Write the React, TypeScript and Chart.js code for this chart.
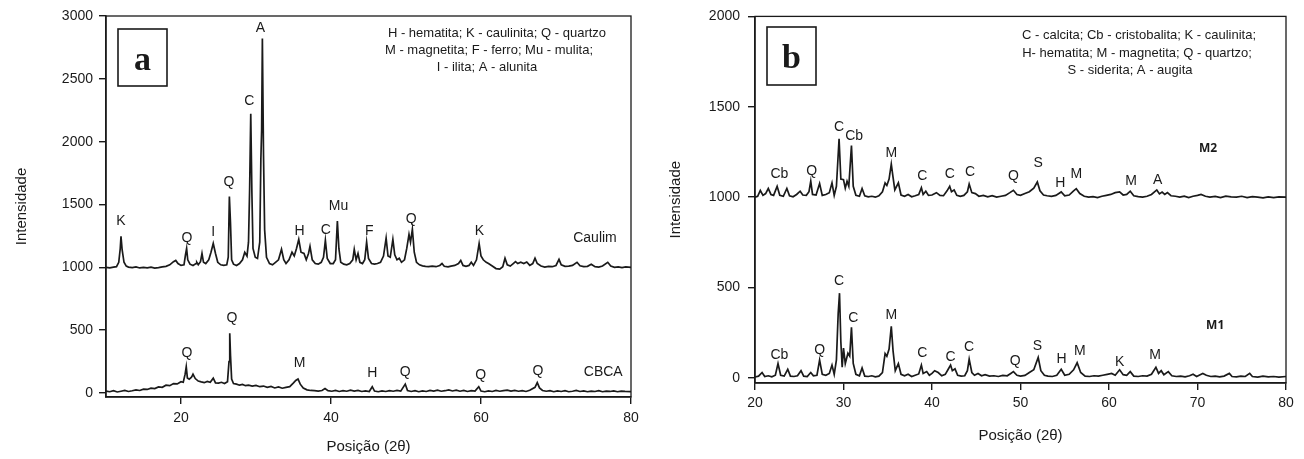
import { useEffect, useRef } from "react";
import { Chart, registerables } from "chart.js";

Chart.register(...registerables);

type Pt = [number, number];
type Lbl = [number, number, string];

// ---------- Panel a: series (2θ, intensity) ----------
const caulim: Pt[] = [
  [10.0, 1000], [10.5, 996], [11.0, 1002], [11.4, 1005], [11.7, 1040], [11.9, 1150], [12.0, 1246], [12.15, 1140],
  [12.4, 1040], [12.7, 1010], [13.0, 1002], [13.5, 998], [14.0, 1003], [14.5, 995], [15.0, 1000], [15.5, 996],
  [16.0, 1002], [16.5, 994], [17.0, 998], [17.5, 1003], [18.0, 1008], [18.5, 1020], [19.0, 1045], [19.3, 1055],
  [19.6, 1030], [20.0, 1015], [20.4, 1020], [20.6, 1100], [20.75, 1150], [20.9, 1060], [21.2, 1025], [21.6, 1015],
  [22.0, 1030], [22.1, 1040], [22.3, 1020], [22.6, 1045], [22.8, 1110], [23.0, 1040], [23.3, 1030], [23.7, 1060],
  [24.0, 1120], [24.3, 1190], [24.6, 1110], [24.9, 1040], [25.3, 1020], [25.7, 1015], [26.1, 1020], [26.3, 1080],
  [26.45, 1564], [26.6, 1350], [26.75, 1060], [27.0, 1025], [27.4, 1015], [27.8, 1030], [28.2, 1060], [28.5, 1120],
  [28.8, 1090], [29.0, 1200], [29.15, 1620], [29.3, 2222], [29.45, 1600], [29.6, 1150], [29.9, 1080], [30.2, 1070],
  [30.5, 1200], [30.65, 1865], [30.75, 2088], [30.85, 2821], [31.0, 1900], [31.15, 1300], [31.4, 1080], [31.8, 1030],
  [32.2, 1020], [32.6, 1040], [33.0, 1060], [33.4, 1143], [33.7, 1060], [34.0, 1030], [34.4, 1060], [34.8, 1120],
  [35.1, 1090], [35.4, 1150], [35.7, 1222], [36.0, 1120], [36.4, 1110], [36.7, 1060], [37.0, 1110], [37.2, 1167],
  [37.5, 1060], [37.9, 1030], [38.3, 1025], [38.7, 1040], [39.0, 1080], [39.25, 1215], [39.5, 1070], [39.9, 1030],
  [40.3, 1030], [40.6, 1060], [40.85, 1368], [41.05, 1150], [41.3, 1040], [41.7, 1025], [42.1, 1020], [42.5, 1030],
  [42.9, 1060], [43.1, 1143], [43.35, 1060], [43.6, 1110], [43.85, 1040], [44.2, 1030], [44.5, 1060], [44.75, 1201],
  [45.0, 1070], [45.4, 1030], [45.8, 1025], [46.2, 1030], [46.6, 1040], [47.0, 1090], [47.35, 1233], [47.6, 1090],
  [47.9, 1080], [48.25, 1222], [48.5, 1100], [48.8, 1060], [49.1, 1072], [49.4, 1040], [49.8, 1060], [50.1, 1150],
  [50.4, 1262], [50.6, 1200], [50.85, 1302], [51.1, 1120], [51.4, 1040], [51.8, 1020], [52.2, 1012], [52.6, 1008],
  [53.0, 1005], [53.5, 1010], [54.0, 1005], [54.5, 1015], [54.8, 1030], [55.1, 1008], [55.6, 1004], [56.0, 1010],
  [56.5, 1015], [57.0, 1030], [57.3, 1055], [57.6, 1015], [58.0, 1008], [58.4, 1015], [58.7, 1040], [59.0, 1015],
  [59.4, 1060], [59.75, 1190], [60.0, 1090], [60.3, 1060], [60.7, 1040], [61.0, 1030], [61.5, 1010], [62.0, 990],
  [62.5, 985], [62.9, 1005], [63.2, 1072], [63.5, 1020], [63.9, 1010], [64.3, 1030], [64.6, 1045], [64.9, 1030],
  [65.3, 1040], [65.7, 1030], [66.1, 1042], [66.5, 1015], [66.9, 1030], [67.2, 1072], [67.5, 1030], [68.0, 1010],
  [68.5, 1002], [69.0, 1008], [69.5, 1005], [70.0, 1015], [70.4, 1063], [70.7, 1020], [71.2, 1008], [71.7, 1010],
  [72.2, 1015], [72.8, 1040], [73.2, 1012], [73.7, 1005], [74.2, 1008], [74.7, 1025], [75.2, 1005], [75.7, 1002],
  [76.2, 1010], [76.9, 1040], [77.3, 1010], [77.8, 1000], [78.3, 1004], [78.8, 998], [79.3, 1003], [80.0, 1000],
];

const cbca: Pt[] = [
  [10.0, 15], [10.5, 10], [11.0, 18], [11.5, 8], [12.0, 14], [12.5, 20], [13.0, 12], [13.5, 18], [14.0, 25],
  [14.5, 20], [15.0, 30], [15.5, 28], [16.0, 38], [16.5, 35], [17.0, 48], [17.5, 45], [18.0, 62], [18.5, 58],
  [19.0, 75], [19.5, 72], [20.0, 90], [20.3, 85], [20.55, 150], [20.7, 209], [20.85, 120], [21.1, 110], [21.4, 125],
  [21.6, 150], [21.9, 115], [22.3, 95], [22.7, 88], [23.1, 82], [23.5, 92], [23.9, 85], [24.3, 118], [24.6, 80],
  [25.0, 78], [25.4, 85], [25.8, 75], [26.2, 90], [26.4, 250], [26.5, 476], [26.6, 300], [26.75, 110], [27.0, 75],
  [27.4, 70], [27.8, 62], [28.2, 68], [28.6, 58], [29.0, 62], [29.5, 55], [30.0, 60], [30.5, 50], [31.0, 55],
  [31.5, 45], [32.0, 52], [32.5, 40], [33.0, 48], [33.5, 38], [34.0, 45], [34.5, 50], [35.0, 80], [35.3, 100],
  [35.6, 111], [35.9, 70], [36.3, 40], [36.8, 25], [37.3, 20], [37.8, 18], [38.3, 15], [38.8, 20], [39.2, 35],
  [39.6, 18], [40.1, 14], [40.6, 20], [41.1, 12], [41.6, 18], [42.1, 14], [42.6, 22], [43.1, 15], [43.6, 20],
  [44.1, 12], [44.6, 16], [45.1, 12], [45.5, 50], [45.8, 15], [46.3, 10], [46.8, 16], [47.3, 12], [47.8, 18],
  [48.3, 14], [48.8, 20], [49.3, 15], [49.9, 71], [50.2, 20], [50.7, 12], [51.2, 18], [51.7, 10], [52.2, 16],
  [52.7, 12], [53.2, 20], [53.7, 15], [54.2, 22], [54.7, 14], [55.2, 18], [55.7, 25], [56.2, 16], [56.7, 22],
  [57.2, 14], [57.7, 20], [58.2, 12], [58.7, 18], [59.2, 15], [59.7, 50], [60.0, 15], [60.5, 10], [61.0, 16],
  [61.5, 12], [62.0, 20], [62.5, 14], [63.0, 18], [63.5, 22], [64.0, 15], [64.5, 20], [65.0, 14], [65.5, 18],
  [66.0, 12], [66.5, 22], [67.2, 45], [67.5, 82], [67.8, 40], [68.2, 20], [68.7, 14], [69.2, 18], [69.7, 10],
  [70.2, 16], [70.7, 12], [71.2, 18], [71.7, 10], [72.2, 14], [72.7, 20], [73.2, 12], [73.7, 16], [74.2, 10],
  [74.7, 15], [75.2, 12], [75.7, 18], [76.2, 10], [76.7, 14], [77.2, 12], [77.7, 16], [78.2, 10], [78.7, 14],
  [79.2, 12], [80.0, 10],
];

// ---------- Panel b: series ----------
const m2: Pt[] = [
  [20.0, 1000], [20.3, 1005], [20.6, 1037], [20.9, 1010], [21.2, 1020], [21.5, 1048], [21.8, 1015], [22.1, 1010],
  [22.5, 1060], [22.8, 1010], [23.2, 1005], [23.6, 1048], [23.9, 1008], [24.3, 1002], [24.7, 1015], [25.1, 1033],
  [25.4, 1012], [25.8, 1010], [26.1, 1030], [26.3, 1088], [26.5, 1015], [26.9, 1012], [27.3, 1075], [27.6, 1010],
  [28.0, 1015], [28.4, 1025], [28.7, 1079], [28.95, 1010], [29.2, 1060], [29.5, 1323], [29.7, 1100], [30.0, 1097],
  [30.2, 1050], [30.4, 1088], [30.6, 1060], [30.9, 1286], [31.1, 1060], [31.4, 1010], [31.8, 1005], [32.1, 1048],
  [32.4, 1008], [32.8, 1002], [33.2, 1005], [33.6, 1000], [34.0, 1008], [34.4, 1030], [34.7, 1079], [34.9, 1065],
  [35.15, 1100], [35.4, 1183], [35.6, 1110], [35.8, 1040], [36.2, 1079], [36.5, 1012], [36.9, 1005], [37.3, 1015],
  [37.7, 1002], [38.1, 1008], [38.5, 1015], [38.8, 1052], [39.0, 1015], [39.3, 1033], [39.6, 1010], [40.0, 1012],
  [40.5, 1025], [40.9, 1010], [41.3, 1008], [41.7, 1035], [42.0, 1060], [42.2, 1030], [42.5, 1040], [42.8, 1010],
  [43.2, 1005], [43.6, 1010], [44.0, 1030], [44.2, 1073], [44.5, 1025], [44.9, 1020], [45.3, 1005], [45.8, 1010],
  [46.3, 1002], [46.8, 1008], [47.3, 1000], [47.8, 1005], [48.3, 1010], [48.8, 1025], [49.2, 1038], [49.6, 1015],
  [50.0, 1010], [50.5, 1020], [51.0, 1030], [51.5, 1050], [51.9, 1084], [52.2, 1035], [52.6, 1012], [53.0, 1008],
  [53.5, 1005], [54.0, 1010], [54.6, 1029], [55.0, 1008], [55.5, 1012], [56.0, 1035], [56.3, 1047], [56.7, 1020],
  [57.2, 1005], [57.7, 1000], [58.2, 1003], [58.7, 998], [59.2, 1005], [59.7, 1010], [60.2, 1015], [60.7, 1025],
  [61.2, 1029], [61.6, 1012], [62.0, 1015], [62.4, 1033], [62.8, 1008], [63.3, 1003], [63.8, 1000], [64.3, 1005],
  [64.8, 1015], [65.4, 1040], [65.7, 1018], [66.0, 1028], [66.3, 1015], [66.6, 1025], [67.0, 1008], [67.5, 1005],
  [68.0, 1000], [68.5, 1006], [69.0, 998], [69.5, 1005], [70.0, 1010], [70.4, 1015], [70.9, 1005], [71.4, 1000],
  [72.0, 1004], [72.6, 998], [73.2, 1006], [73.8, 1002], [74.4, 1000], [75.0, 1005], [75.6, 998], [76.2, 1003],
  [76.8, 1000], [77.4, 996], [78.0, 1002], [78.6, 998], [79.2, 1002], [80.0, 1000],
];

const m1: Pt[] = [
  [20.0, 5], [20.4, 10], [20.8, 30], [21.1, 8], [21.5, 12], [21.9, 6], [22.3, 15], [22.6, 79], [22.9, 15],
  [23.3, 10], [23.7, 48], [24.0, 10], [24.4, 8], [24.8, 12], [25.2, 40], [25.5, 10], [25.9, 8], [26.3, 30],
  [26.6, 12], [27.0, 15], [27.3, 99], [27.6, 20], [28.0, 15], [28.4, 25], [28.7, 71], [28.95, 20], [29.2, 100],
  [29.4, 357], [29.55, 469], [29.7, 200], [29.85, 60], [30.0, 165], [30.2, 80], [30.5, 137], [30.7, 120],
  [30.9, 280], [31.1, 80], [31.4, 20], [31.8, 12], [32.1, 55], [32.4, 10], [32.8, 8], [33.2, 12], [33.6, 6],
  [34.0, 10], [34.4, 30], [34.7, 135], [34.9, 120], [35.15, 160], [35.4, 286], [35.6, 150], [35.85, 40],
  [36.2, 79], [36.5, 20], [36.9, 12], [37.3, 20], [37.7, 8], [38.1, 15], [38.5, 22], [38.8, 71], [39.0, 25],
  [39.4, 35], [39.7, 15], [40.0, 25], [40.3, 40], [40.7, 30], [41.1, 12], [41.5, 20], [41.8, 45], [42.1, 71],
  [42.3, 40], [42.6, 50], [42.9, 15], [43.3, 10], [43.7, 12], [44.0, 40], [44.2, 104], [44.5, 30], [44.8, 15],
  [45.2, 25], [45.6, 12], [46.0, 18], [46.5, 10], [47.0, 12], [47.5, 8], [48.0, 14], [48.5, 12], [48.9, 25],
  [49.2, 35], [49.6, 15], [50.0, 10], [50.5, 14], [51.0, 30], [51.5, 45], [52.0, 113], [52.3, 40], [52.7, 15],
  [53.1, 10], [53.6, 8], [54.1, 15], [54.6, 48], [55.0, 15], [55.5, 20], [56.0, 45], [56.4, 84], [56.8, 30],
  [57.3, 10], [57.8, 8], [58.3, 12], [58.8, 10], [59.3, 15], [59.8, 20], [60.3, 25], [60.7, 15], [61.2, 45],
  [61.6, 18], [62.0, 15], [62.4, 35], [62.8, 10], [63.3, 8], [63.8, 12], [64.3, 10], [64.8, 20], [65.3, 59],
  [65.6, 25], [65.9, 40], [66.2, 18], [66.7, 35], [67.1, 12], [67.6, 8], [68.1, 10], [68.6, 6], [69.1, 12],
  [69.5, 20], [69.9, 8], [70.3, 18], [70.6, 25], [71.0, 15], [71.5, 8], [72.0, 10], [72.5, 6], [73.0, 10],
  [73.6, 25], [73.9, 8], [74.4, 6], [74.9, 10], [75.4, 8], [75.9, 25], [76.2, 8], [76.8, 5], [77.4, 10],
  [78.0, 6], [78.6, 8], [79.2, 5], [80.0, 8],
];

// ---------- Ticks ----------
const xTicksA = [20, 40, 60, 80];
const yTicksA = [0, 500, 1000, 1500, 2000, 2500, 3000];
const xTicksB = [20, 30, 40, 50, 60, 70, 80];
const yTicksB = [0, 500, 1000, 1500, 2000];

// ---------- Peak labels (2θ, intensity, text) ----------
const peaksA: Lbl[] = [
  [12.0, 1366, "K"], [20.8, 1233, "Q"], [24.3, 1281, "I"], [26.4, 1678, "Q"], [29.1, 2326, "C"],
  [30.6, 2903, "A"], [35.8, 1286, "H"], [39.3, 1294, "C"], [41.0, 1485, "Mu"], [45.1, 1289, "F"],
  [50.7, 1387, "Q"], [59.8, 1289, "K"],
  [20.8, 320, "Q"], [26.8, 593, "Q"], [35.8, 236, "M"], [45.5, 161, "H"], [49.9, 169, "Q"],
  [59.96, 143, "Q"], [67.6, 177, "Q"],
];
const peaksB: Lbl[] = [
  [22.75, 1125, "Cb"], [26.4, 1143, "Q"], [29.5, 1390, "C"], [31.2, 1335, "Cb"], [35.4, 1243, "M"],
  [38.9, 1115, "C"], [42.0, 1125, "C"], [44.3, 1139, "C"], [49.2, 1115, "Q"], [52.0, 1188, "S"],
  [54.5, 1079, "H"], [56.3, 1125, "M"], [62.5, 1088, "M"], [65.5, 1092, "A"],
  [22.75, 126, "Cb"], [27.3, 154, "Q"], [29.5, 538, "C"], [31.1, 333, "C"], [35.4, 346, "M"],
  [38.9, 136, "C"], [42.1, 117, "C"], [44.2, 169, "C"], [49.4, 95, "Q"], [51.9, 176, "S"],
  [54.65, 103, "H"], [56.7, 150, "M"], [61.2, 90, "K"], [65.2, 126, "M"],
];
const seriesNamesA: Lbl[] = [[75.2, 1236, "Caulim"], [76.3, 169, "CBCA"]];
const seriesNamesB: Lbl[] = [[71.2, 1271, "M2"], [72.0, 291, "M1"]];

const legendA = [
  "H - hematita; K - caulinita; Q - quartzo",
  "M - magnetita; F - ferro; Mu - mulita;",
  "I - ilita; A - alunita",
];
const legendB = [
  "C - calcita; Cb - cristobalita; K - caulinita;",
  "H- hematita; M - magnetita; Q - quartzo;",
  "S - siderita; A - augita",
];

const FONT = '"Liberation Sans", Arial, sans-serif';
const INK = "#1a1a1a";

interface PanelProps {
  left: number;
  width: number;
  series: Pt[][];
  peaks: Lbl[];
  names: Lbl[];
  namesBold: boolean;
  legend: string[];
  legendDx: number[];
  legendY: number[];
  letter: string;
  boxTop: number;
  boxH: number;
  xMin: number;
  xMax: number;
  yMin: number;
  yMax: number;
  xTicks: number[];
  yTicks: number[];
  yAxisWidth: number;
  xAxisHeight: number;
  padTop: number;
  padRight: number;
  yTitlePad: number;
  xTitlePad: number;
  xTickPad: number;
  yTickPad: number;
}

function Panel(p: PanelProps) {
  const ref = useRef<HTMLCanvasElement | null>(null);
  useEffect(() => {
    if (!ref.current) return;
    const decor = {
      id: "decor",
      afterDraw(chart: any) {
        const { ctx, chartArea: a } = chart;
        const xs = chart.scales.x;
        const ys = chart.scales.y;
        ctx.save();
        ctx.strokeStyle = INK;
        ctx.lineWidth = 1.3;
        ctx.strokeRect(a.left, a.top, a.right - a.left, a.bottom - a.top);
        // peak labels
        ctx.fillStyle = INK;
        ctx.textAlign = "center";
        ctx.textBaseline = "middle";
        ctx.font = `14px ${FONT}`;
        for (const [x, y, t] of p.peaks) {
          ctx.fillText(t, xs.getPixelForValue(x), ys.getPixelForValue(y));
        }
        ctx.font = p.namesBold ? `bold 12px "Open Sans", ${FONT}` : `14px ${FONT}`;
        for (const [x, y, t] of p.names) {
          ctx.fillText(t, xs.getPixelForValue(x), ys.getPixelForValue(y));
        }
        // legend block
        ctx.font = `13px ${FONT}`;
        p.legend.forEach((line, i) => {
          ctx.fillText(line, a.right - p.legendDx[i], p.legendY[i]);
        });
        // panel letter box
        ctx.lineWidth = 1.6;
        ctx.strokeRect(a.left + 12, p.boxTop, 49, p.boxH);
        ctx.font = `bold 34px "Liberation Serif", "Times New Roman", serif`;
        ctx.textBaseline = "alphabetic";
        ctx.fillText(p.letter, a.left + 36.5, p.boxTop + 41);
        ctx.restore();
      },
    };
    const axisCommon = {
      grid: { drawOnChartArea: false, drawTicks: true, tickLength: 7, color: INK, lineWidth: 1.4 },
      border: { display: true, color: INK, width: 1.5 },
    };
    const chart = new Chart(ref.current, {
      type: "scatter",
      data: {
        datasets: p.series.map((s) => ({
          data: s.map(([x, y]) => ({ x, y })),
          showLine: true,
          borderColor: INK,
          borderWidth: 1.7,
          pointRadius: 0,
          tension: 0,
        })),
      },
      options: {
        animation: false,
        responsive: false,
        maintainAspectRatio: false,
        layout: { padding: { top: p.padTop, right: p.padRight, left: 0, bottom: 0 } },
        plugins: { legend: { display: false }, tooltip: { enabled: false } },
        scales: {
          x: {
            type: "linear",
            min: p.xMin,
            max: p.xMax,
            ...axisCommon,
            afterBuildTicks: (s: any) => {
              s.ticks = p.xTicks.map((v) => ({ value: v }));
            },
            afterFit: (s: any) => {
              s.height = p.xAxisHeight;
            },
            ticks: {
              color: INK,
              font: { family: FONT, size: 14 },
              padding: p.xTickPad,
              maxRotation: 0,
              autoSkip: false,
              callback: (v: any) => String(v),
            },
            title: {
              display: true,
              text: "Posição (2θ)",
              color: INK,
              font: { family: FONT, size: 15 },
              padding: { top: 0, bottom: p.xTitlePad },
            },
          },
          y: {
            type: "linear",
            min: p.yMin,
            max: p.yMax,
            ...axisCommon,
            afterBuildTicks: (s: any) => {
              s.ticks = p.yTicks.map((v) => ({ value: v }));
            },
            afterFit: (s: any) => {
              s.width = p.yAxisWidth;
            },
            ticks: {
              color: INK,
              font: { family: FONT, size: 14 },
              padding: p.yTickPad,
              autoSkip: false,
              callback: (v: any) => String(v),
            },
            title: {
              display: true,
              text: "Intensidade",
              color: INK,
              font: { family: FONT, size: 15 },
              padding: { top: p.yTitlePad, bottom: 0 },
            },
          },
        },
      } as any,
      plugins: [decor],
    });
    return () => chart.destroy();
  }, []);
  return (
    <div style={{ position: "absolute", left: p.left, top: 0, width: p.width, height: 459 }}>
      <canvas ref={ref} width={p.width} height={459} style={{ width: p.width, height: 459, display: "block" }} />
    </div>
  );
}

export default function App() {
  return (
    <div style={{ position: "fixed", left: 0, top: 0, width: 1304, height: 459, background: "#fff", overflow: "hidden" }}>
      <Panel
        left={0}
        width={650}
        series={[caulim, cbca]}
        peaks={peaksA}
        names={seriesNamesA}
        namesBold={false}
        legend={legendA}
        legendDx={[134, 142, 144]}
        legendY={[33, 50, 67]}
        letter="a"
        boxTop={29}
        boxH={57}
        xMin={10}
        xMax={80}
        yMin={-32}
        yMax={3000}
        xTicks={xTicksA}
        yTicks={yTicksA}
        yAxisWidth={106}
        xAxisHeight={62}
        padTop={16}
        padRight={19}
        yTitlePad={13}
        xTitlePad={3}
        xTickPad={6}
        yTickPad={6}
      />
      <Panel
        left={650}
        width={654}
        series={[m2, m1]}
        peaks={peaksB}
        names={seriesNamesB}
        namesBold={true}
        legend={legendB}
        legendDx={[147, 149, 156]}
        legendY={[35, 53, 70]}
        letter="b"
        boxTop={27}
        boxH={58}
        xMin={20}
        xMax={80}
        yMin={-28}
        yMax={2000}
        xTicks={xTicksB}
        yTicks={yTicksB}
        yAxisWidth={105}
        xAxisHeight={76}
        padTop={15}
        padRight={18}
        yTitlePad={17}
        xTitlePad={14}
        xTickPad={5}
        yTickPad={8}
      />
    </div>
  );
}
